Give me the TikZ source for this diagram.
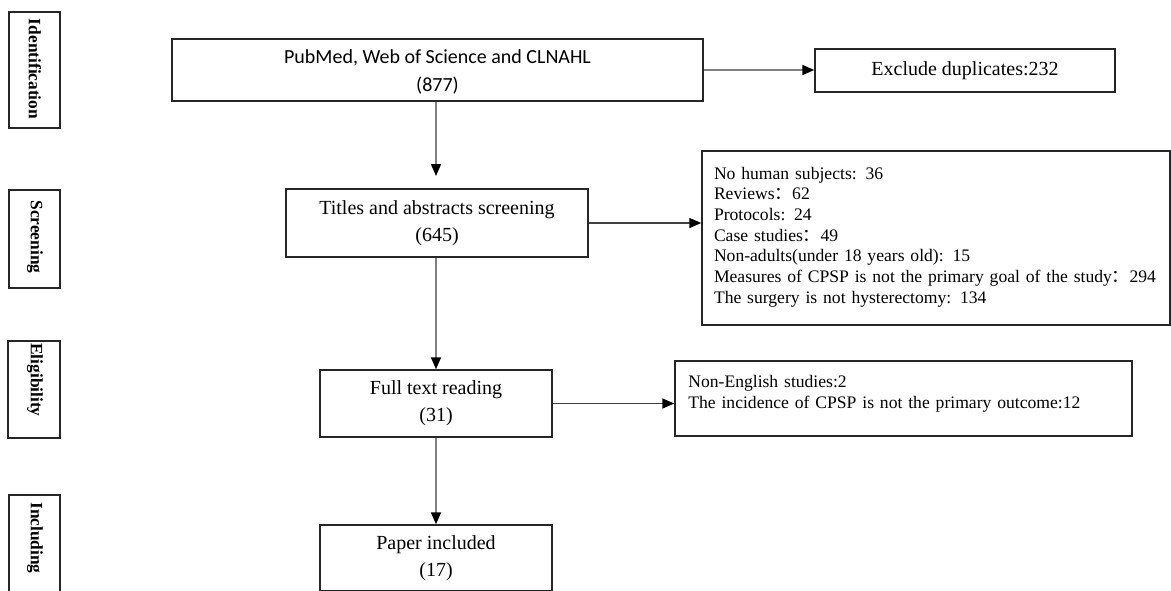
\documentclass[tikz,border=0pt]{standalone}
\usepackage{fontspec}
\setmainfont{Liberation Serif}
\newfontfamily\calibri{Carlito}
\newfontfamily\cjk{Noto Sans CJK SC}
\usetikzlibrary{arrows.meta}
\newcommand{\fc}{{\cjk ：}}
\begin{document}
\begin{tikzpicture}[x=0.75pt,y=-0.75pt,
  box/.style={draw=black!85,line width=1.1pt,inner sep=0pt,align=center,font=\fontsize{15}{20}\selectfont},
  stage/.style={draw=black!85,line width=1.1pt,inner sep=0pt},
  stagetext/.style={rotate=-90,font=\fontsize{13}{15}\selectfont\bfseries,inner sep=0pt},
  listbox/.style={draw=black!85,line width=1.1pt,inner ysep=0pt,align=left,font=\fontsize{13.2}{15.5}\selectfont},
  vline/.style={draw={rgb,255:red,128;green,128;blue,128},line width=1.3pt,-{Triangle[length=9pt,width=7.5pt,color=black]}},
  hline/.style={draw=black!75,line width=1.2pt,-{Triangle[length=9pt,width=7.5pt,color=black]}}
]
\useasboundingbox (0,0) rectangle (1171,590);
% stage labels
\node[stage,minimum width=38.25pt,minimum height=87pt] (sid) at (34.5,70) {};
\node[stagetext] (tid) at (35,69) {Identification};
\node[stage,minimum width=38.25pt,minimum height=73.5pt] (ssc) at (34.5,239) {};
\node[stagetext] (tsc) at (35,237) {Screening};
\node[stage,minimum width=39pt,minimum height=72.75pt] (sel) at (34,389.5) {};
\node[stagetext] (tel) at (35,380) {Eligibility};
\node[stage,minimum width=38.25pt,minimum height=82.5pt] (sin) at (34.5,550) {};
\node[stagetext] (tin) at (35,538) {Including};
% main boxes
\node[box,minimum width=398.25pt,minimum height=46.5pt,font=\calibri\fontsize{15}{21}\selectfont] (b1) at (437.5,70) {\rule{0pt}{13pt}PubMed, Web of Science and CLNAHL\\(877)};
\node[box,minimum width=225pt,minimum height=32.25pt] (dup) at (965,70.5) {Exclude duplicates:232};
\node[box,minimum width=226.5pt,minimum height=51pt] (title) at (437,223) {Titles and abstracts screening\\(645)};
\node[listbox,inner xsep=9pt,minimum width=351pt,minimum height=130.5pt,text width=333pt] (ex1) at (936,238) {No human subjects: 36\\Reviews\fc 62\\Protocols: 24\\Case studies\fc 49\\Non-adults(under 18 years old): 15\\Measures of CPSP is not the primary goal of the study\fc 294\\The surgery is not hysterectomy: 134\\[-11pt]\mbox{}};
\node[listbox,inner xsep=10pt,minimum width=342.75pt,minimum height=56.25pt,text width=322.75pt] (ex2) at (903.5,398.5) {Non-English studies:2\\The incidence of CPSP is not the primary outcome:12\\[-6pt]\mbox{}};
\node[box,minimum width=174pt,minimum height=50.25pt] (ft) at (436,403.5) {Full text reading\\(31)};
\node[box,minimum width=174pt,minimum height=49.5pt] (inc) at (436,558) {Paper included\\(17)};
% connectors
\coordinate (a1end) at (436,176);
\draw[vline] (b1.south -| a1end) -- (a1end);
\draw[hline,draw={rgb,255:red,128;green,128;blue,128}] (b1.east) -- (b1.east -| dup.west);
\draw[hline] (title.east) -- (title.east -| ex1.west);
\draw[vline] (title.south -| ft.north) -- (ft.north);
\draw[hline] (ft.east) -- (ft.east -| ex2.west);
\draw[vline] (ft.south) -- (inc.north);
\end{tikzpicture}
\end{document}
